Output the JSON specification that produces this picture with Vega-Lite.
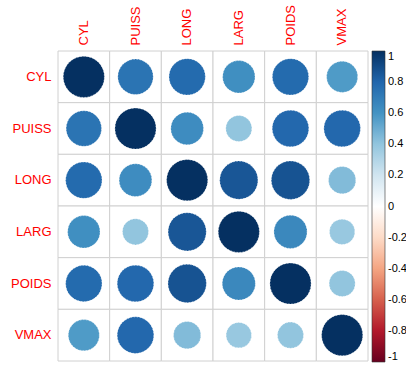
{
  "$schema": "https://vega.github.io/schema/vega-lite/v6.json",
  "width": 310,
  "height": 310,
  "autosize": {"type": "none"},
  "padding": {"left": 58, "top": 51, "right": 38, "bottom": 15},
  "background": "white",
  "config": {
    "font": "Liberation Sans",
    "view": {"stroke": null}
  },
  "data": {
    "values": [
      {"row": "CYL", "col": "CYL", "r": 1},
      {"row": "CYL", "col": "PUISS", "r": 0.74},
      {"row": "CYL", "col": "LONG", "r": 0.78},
      {"row": "CYL", "col": "LARG", "r": 0.62},
      {"row": "CYL", "col": "POIDS", "r": 0.78},
      {"row": "CYL", "col": "VMAX", "r": 0.57},
      {"row": "PUISS", "col": "CYL", "r": 0.74},
      {"row": "PUISS", "col": "PUISS", "r": 1},
      {"row": "PUISS", "col": "LONG", "r": 0.63},
      {"row": "PUISS", "col": "LARG", "r": 0.40},
      {"row": "PUISS", "col": "POIDS", "r": 0.79},
      {"row": "PUISS", "col": "VMAX", "r": 0.79},
      {"row": "LONG", "col": "CYL", "r": 0.78},
      {"row": "LONG", "col": "PUISS", "r": 0.63},
      {"row": "LONG", "col": "LONG", "r": 1},
      {"row": "LONG", "col": "LARG", "r": 0.86},
      {"row": "LONG", "col": "POIDS", "r": 0.87},
      {"row": "LONG", "col": "VMAX", "r": 0.44},
      {"row": "LARG", "col": "CYL", "r": 0.62},
      {"row": "LARG", "col": "PUISS", "r": 0.40},
      {"row": "LARG", "col": "LONG", "r": 0.86},
      {"row": "LARG", "col": "LARG", "r": 1},
      {"row": "LARG", "col": "POIDS", "r": 0.65},
      {"row": "LARG", "col": "VMAX", "r": 0.38},
      {"row": "POIDS", "col": "CYL", "r": 0.78},
      {"row": "POIDS", "col": "PUISS", "r": 0.79},
      {"row": "POIDS", "col": "LONG", "r": 0.87},
      {"row": "POIDS", "col": "LARG", "r": 0.65},
      {"row": "POIDS", "col": "POIDS", "r": 1},
      {"row": "POIDS", "col": "VMAX", "r": 0.40},
      {"row": "VMAX", "col": "CYL", "r": 0.57},
      {"row": "VMAX", "col": "PUISS", "r": 0.79},
      {"row": "VMAX", "col": "LONG", "r": 0.44},
      {"row": "VMAX", "col": "LARG", "r": 0.38},
      {"row": "VMAX", "col": "POIDS", "r": 0.40},
      {"row": "VMAX", "col": "VMAX", "r": 1}
    ]
  },
  "encoding": {
    "x": {
      "field": "col", "type": "nominal",
      "sort": ["CYL", "PUISS", "LONG", "LARG", "POIDS", "VMAX"],
      "scale": {"paddingInner": 0, "paddingOuter": 0},
      "axis": {
        "orient": "top", "title": null, "domain": false, "ticks": false,
        "labelAngle": -90, "labelColor": "#FF0000", "labelFontSize": 13,
        "labelPadding": 6, "labelFont": "Liberation Sans"
      }
    },
    "y": {
      "field": "row", "type": "nominal",
      "sort": ["CYL", "PUISS", "LONG", "LARG", "POIDS", "VMAX"],
      "scale": {"paddingInner": 0, "paddingOuter": 0},
      "axis": {
        "title": null, "domain": false, "ticks": false,
        "labelColor": "#FF0000", "labelFontSize": 13,
        "labelPadding": 7, "labelFont": "Liberation Sans"
      }
    }
  },
  "layer": [
    {
      "mark": {"type": "rect", "fill": "white", "stroke": "#d0d0d0", "strokeWidth": 1}
    },
    {
      "mark": {"type": "circle", "opacity": 1, "stroke": "white", "strokeWidth": 0.6, "strokeDash": [1.5, 1.5]},
      "encoding": {
        "size": {
          "field": "r", "type": "quantitative",
          "scale": {"type": "linear", "domain": [0, 1], "range": [0, 1700]},
          "legend": null
        },
        "color": {
          "field": "r", "type": "quantitative",
          "scale": {
            "type": "linear",
            "domain": [-1, -0.8, -0.6, -0.4, -0.2, 0, 0.2, 0.4, 0.6, 0.8, 1],
            "range": ["#67001F", "#B2182B", "#D6604D", "#F4A582", "#FDDBC7", "#FFFFFF", "#D1E5F0", "#92C5DE", "#4393C3", "#2166AC", "#053061"],
            "interpolate": "rgb"
          },
          "legend": {
            "title": null,
            "orient": "right",
            "offset": 4,
            "padding": 0,
            "direction": "vertical",
            "gradientLength": 311,
            "gradientThickness": 13,
            "gradientStrokeColor": "#333333",
            "gradientStrokeWidth": 0.6,
            "values": [1, 0.8, 0.6, 0.4, 0.2, 0, -0.2, -0.4, -0.6, -0.8, -1],
            "labelExpr": "'' + datum.value",
            "labelOverlap": false,
            "labelBaseline": "middle",
            "labelFontSize": 11,
            "labelOffset": 3,
            "labelColor": "#000000",
            "labelFont": "Liberation Sans"
          }
        }
      }
    }
  ]
}
